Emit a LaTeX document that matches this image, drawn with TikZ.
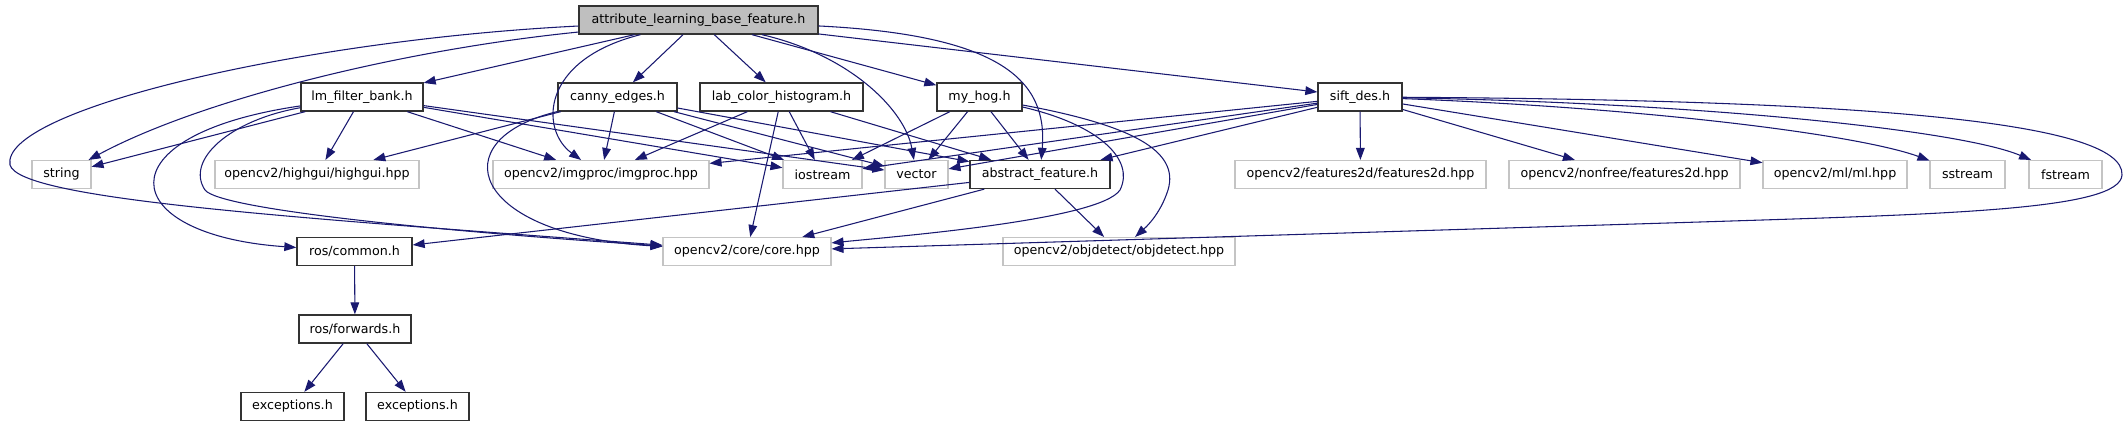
\documentclass[tikz,border=0pt]{standalone}
\usepackage{fontspec}
\setmainfont{DejaVu Sans}
\usetikzlibrary{arrows.meta}

\definecolor{edgeblue}{HTML}{191970}
\definecolor{rootfill}{HTML}{BFBFBF}
\definecolor{sysgray}{HTML}{C4C4C4}

\begin{document}
\begin{tikzpicture} [
    x=0.75pt, y=-0.75pt,
    font=\fontsize{9.5pt}{11pt}\selectfont,
    block/.style     = { rectangle, draw=black!80, line width=1pt, fill=white,
                         text centered, inner xsep=1pt, minimum height=21pt },
    sysblock/.style  = { block, draw=sysgray, line width=0.8pt },
    rootblock/.style = { block, fill=rootfill },
    line/.style      = { draw=edgeblue, line width=0.8pt,
                         -{Triangle[length=9pt, width=6.5pt]} },
  ]

  \useasboundingbox (0,0) rectangle (2126,427);

  % Define nodes
  \node[rootblock, minimum width=179.25pt] (attr) at (698.5,20) {attribute\_learning\_base\_feature.h};

  \node[block, minimum width=91.5pt]   (lm)    at (362,97)   {lm\_filter\_bank.h};
  \node[block, minimum width=89.25pt]  (canny) at (617.5,97) {canny\_edges.h};
  \node[block, minimum width=122.25pt] (lab)   at (781.5,97) {lab\_color\_histogram.h};
  \node[block, minimum width=63.75pt]  (hog)   at (979.5,97) {my\_hog.h};
  \node[block, minimum width=63pt]     (sift)  at (1360,97)  {sift\_des.h};

  \node[sysblock, minimum width=44.25pt]  (string)     at (61.5,174.5)   {string};
  \node[sysblock, minimum width=153pt]    (highgui)    at (317,174.5)    {opencv2/highgui/highgui.hpp};
  \node[sysblock, minimum width=162pt]    (imgproc)    at (601,174.5)    {opencv2/imgproc/imgproc.hpp};
  \node[sysblock, minimum width=59.25pt]  (iostream)   at (822.5,174.5)  {iostream};
  \node[sysblock, minimum width=47.25pt]  (vector)     at (916.5,174.5)  {vector};
  \node[block, minimum width=105pt]       (abstract)   at (1040,174.5)   {abstract\_feature.h};
  \node[sysblock, minimum width=188.25pt] (features2d) at (1360.5,174.5) {opencv2/features2d/features2d.hpp};
  \node[sysblock, minimum width=173.25pt] (nonfree)    at (1624.5,174.5) {opencv2/nonfree/features2d.hpp};
  \node[sysblock, minimum width=108pt]    (ml)         at (1835,174.5)   {opencv2/ml/ml.hpp};
  \node[sysblock, minimum width=56.25pt]  (sstream)    at (1967.5,174.5) {sstream};
  \node[sysblock, minimum width=54.75pt]  (fstream)    at (2065.5,174.5) {fstream};

  \node[block, minimum width=86.25pt]  (common)    at (354.5,251.5) {ros/common.h};
  \node[sysblock, minimum width=126pt] (core)      at (747,251.5)   {opencv2/core/core.hpp};
  \node[sysblock, minimum width=174pt] (objdetect) at (1119,251.5)  {opencv2/objdetect/objdetect.hpp};

  \node[block, minimum width=84pt]    (forwards) at (355,329)     {ros/forwards.h};
  \node[block, minimum width=77.25pt] (exceptA)  at (292.5,406.5) {exceptions.h};
  \node[block, minimum width=77.25pt] (exceptB)  at (417.5,406.5) {exceptions.h};

  % connect the nodes
    \path [line] (attr) -- (lm);
    \path [line] (attr) -- (canny);
    \path [line] (attr) -- (lab);
    \path [line] (attr) -- (hog);
    \path [line] (attr) -- (sift);
    \path [line] (attr) .. controls (400,50) and (200,100) .. (string);
    \path [line] (attr) .. controls (300,40) and (0,110) .. (10,165)
                        .. controls (20,200) and (300,218) .. (core);
    \path [line] (attr) .. controls (540,60) and (540,130) .. (imgproc);
    \path [line] (attr) .. controls (850,55) and (905,110) .. (vector);
    \path [line] (attr) .. controls (1000,35) and (1048,80) .. (abstract);

    \path [line] (lm) -- (string);
    \path [line] (lm) -- (highgui);
    \path [line] (lm) -- (imgproc);
    \path [line] (lm) -- (iostream);
    \path [line] (lm) -- (vector);
    \path [line] (lm) .. controls (230,120) and (185,160) .. (205,190)
                      .. controls (220,210) and (450,232) .. (core);
    \path [line] (lm) .. controls (100,135) and (115,235) .. (common);

    \path [line] (canny) -- (highgui);
    \path [line] (canny) -- (imgproc);
    \path [line] (canny) -- (iostream);
    \path [line] (canny) -- (vector);
    \path [line] (canny) -- (abstract);
    \path [line] (canny) .. controls (440,140) and (470,235) .. (core);

    \path [line] (lab) -- (imgproc);
    \path [line] (lab) -- (core);
    \path [line] (lab) -- (iostream);
    \path [line] (lab) -- (abstract);

    \path [line] (hog) -- (iostream);
    \path [line] (hog) -- (vector);
    \path [line] (hog) -- (abstract);
    \path [line] (hog) .. controls (1100,125) and (1135,160) .. (1120,190)
                       .. controls (1100,220) and (900,236) .. (core);
    \path [line] (hog) .. controls (1130,125) and (1180,150) .. (1168,190)
                       .. controls (1160,215) and (1145,228) .. (objdetect);

    \path [line] (sift) -- (features2d);
    \path [line] (sift) -- (nonfree);
    \path [line] (sift) -- (ml);
    \path [line] (sift) .. controls (1650,108) and (1860,135) .. (sstream);
    \path [line] (sift) .. controls (1700,103) and (1960,130) .. (fstream);
    \path [line] (sift) .. controls (1850,100) and (2125,120) .. (2122,175)
                        .. controls (2120,210) and (1950,214) .. (1700,222) -- (core);
    \path [line] (sift) -- (abstract);
    \path [line] (sift) -- (vector);
    \path [line] (sift) -- (iostream);
    \path [line] (sift) -- (imgproc);

    \path [line] (abstract) -- (common);
    \path [line] (abstract) -- (core);
    \path [line] (abstract) -- (objdetect);

    \path [line] (common) -- (forwards);
    \path [line] (forwards) -- (exceptA);
    \path [line] (forwards) -- (exceptB);
\end{tikzpicture}
\end{document}
